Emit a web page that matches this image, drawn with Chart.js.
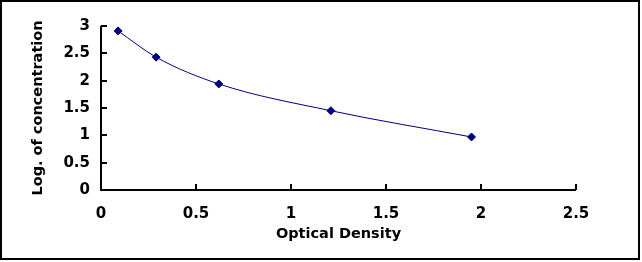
<!DOCTYPE html>
<html>
<head>
    <title>Standard Curve</title>
    <script src="https://cdn.jsdelivr.net/npm/chart.js@4.4.0/dist/chart.umd.min.js"></script>
    <style>
        body { margin: 0; background: #fff; }
        #wrap { width: 642px; height: 262px; }
    </style>
</head>
<body>
    <div id="wrap"><canvas id="curveChart" width="642" height="262"></canvas></div>

    <script>
        // Values
        const opticalDensity = [0.09, 0.29, 0.62, 1.21, 1.95];
        const logConcentration = [2.91, 2.43, 1.94, 1.45, 0.97];
        const xTicks = [0, 0.5, 1, 1.5, 2, 2.5];
        const yTicks = [0, 0.5, 1, 1.5, 2, 2.5, 3];

        const points = opticalDensity.map((x, i) => ({ x: x, y: logConcentration[i] }));

        const tickFont = { family: 'DejaVu Sans', size: 15, weight: 'bold' };
        const titleFont = { family: 'DejaVu Sans', size: 14.5, weight: 'bold' };

        // Axis lines with inward ticks, plus the outer frame
        const axesPlugin = {
            id: 'axesPlugin',
            afterDraw(chart) {
                const ctx = chart.ctx;
                const xs = chart.scales.x, ys = chart.scales.y;
                const x0 = xs.getPixelForValue(0), y0 = ys.getPixelForValue(0);
                ctx.save();
                ctx.strokeStyle = '#000';
                ctx.lineWidth = 2;
                ctx.beginPath();
                ctx.moveTo(x0, ys.getPixelForValue(3));
                ctx.lineTo(x0, y0);
                ctx.lineTo(xs.getPixelForValue(2.5), y0);
                yTicks.forEach(v => {
                    const py = Math.round(ys.getPixelForValue(v));
                    ctx.moveTo(x0, py);
                    ctx.lineTo(x0 + 6, py);
                });
                xTicks.forEach(v => {
                    const px = Math.round(xs.getPixelForValue(v));
                    ctx.moveTo(px, y0);
                    ctx.lineTo(px, y0 - 6);
                });
                ctx.stroke();
                ctx.strokeRect(1, 1, 638, 258);
                ctx.restore();
            }
        };

        new Chart(document.getElementById('curveChart'), {
            type: 'scatter',
            data: {
                datasets: [{
                    data: points,
                    showLine: true,
                    borderColor: '#000080',
                    backgroundColor: '#000080',
                    borderWidth: 1,
                    tension: 0.4,
                    cubicInterpolationMode: 'monotone',
                    pointStyle: 'rectRot',
                    pointRadius: 4,
                    pointHoverRadius: 4
                }]
            },
            options: {
                responsive: false,
                animation: false,
                events: [],
                layout: { padding: { left: 0, top: 26, right: 66, bottom: 0 } },
                plugins: {
                    legend: { display: false },
                    tooltip: { enabled: false }
                },
                scales: {
                    x: {
                        type: 'linear',
                        min: 0,
                        max: 2.5,
                        afterBuildTicks: s => { s.ticks = xTicks.map(v => ({ value: v })); },
                        afterFit: s => { s.height = 72; },
                        grid: { display: false, drawTicks: false },
                        border: { display: false },
                        ticks: {
                            padding: 15,
                            color: '#000',
                            font: tickFont,
                            callback: v => String(v)
                        },
                        title: {
                            display: true,
                            text: 'Optical Density',
                            color: '#000',
                            padding: { top: 0, bottom: 19 },
                            font: titleFont
                        }
                    },
                    y: {
                        type: 'linear',
                        min: 0,
                        max: 3,
                        afterBuildTicks: s => { s.ticks = yTicks.map(v => ({ value: v })); },
                        afterFit: s => { s.width = 101; },
                        grid: { display: false, drawTicks: false },
                        border: { display: false },
                        ticks: {
                            padding: 11,
                            color: '#000',
                            font: tickFont,
                            callback: v => String(v)
                        },
                        title: {
                            display: true,
                            text: 'Log. of concentration',
                            color: '#000',
                            padding: { top: 30 },
                            font: titleFont
                        }
                    }
                }
            },
            plugins: [axesPlugin]
        });
    </script>
</body>
</html>
